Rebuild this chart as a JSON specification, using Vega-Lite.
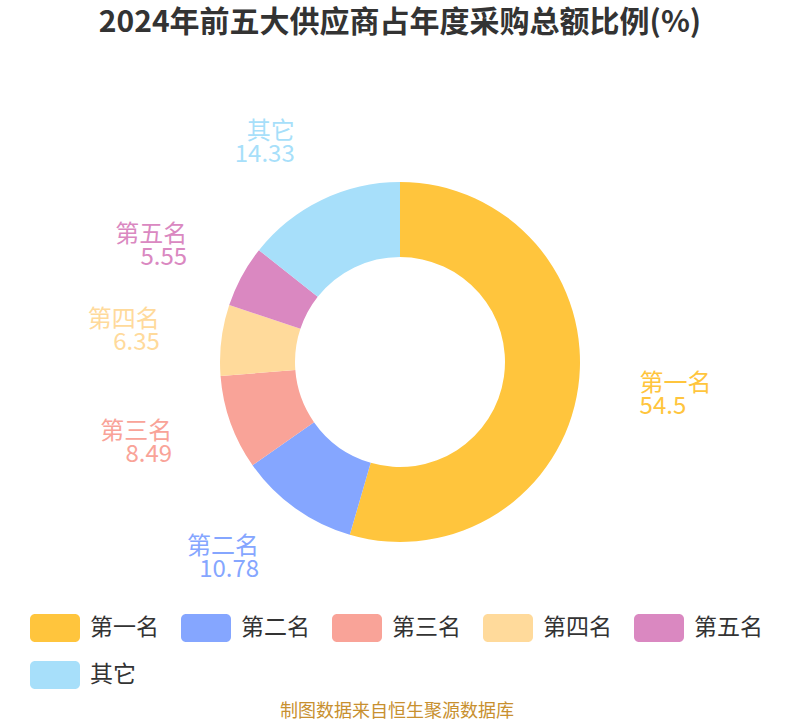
{
  "$schema": "https://vega.github.io/schema/vega-lite/v6.json",
  "width": 800,
  "height": 440,
  "autosize": {"type": "pad"},
  "padding": {"left": 0, "right": 0, "top": 8, "bottom": 0},
  "background": "white",
  "title": {
    "text": "2024年前五大供应商占年度采购总额比例(%)",
    "fontSize": 30,
    "fontWeight": "bold",
    "color": "#333333",
    "font": "Noto Sans CJK SC",
    "anchor": "middle",
    "offset": 82
  },
  "config": {"view": {"stroke": null}, "font": "Noto Sans CJK SC"},
  "data": {
    "values": [
      {"name": "第一名", "value": 54.5, "rank": 1},
      {"name": "第二名", "value": 10.78, "rank": 2},
      {"name": "第三名", "value": 8.49, "rank": 3},
      {"name": "第四名", "value": 6.35, "rank": 4},
      {"name": "第五名", "value": 5.55, "rank": 5},
      {"name": "其它", "value": 14.33, "rank": 6}
    ]
  },
  "encoding": {
    "theta": {"field": "value", "type": "quantitative", "stack": true},
    "order": {"field": "rank", "type": "quantitative"},
    "color": {
      "field": "name",
      "type": "nominal",
      "scale": {
        "domain": ["第一名", "第二名", "第三名", "第四名", "第五名", "其它"],
        "range": ["#FFC53D", "#85A6FF", "#F9A398", "#FFDA9B", "#DA88C1", "#A7DFFA"]
      },
      "legend": {
        "orient": "none",
        "legendX": 30,
        "legendY": 461,
        "direction": "horizontal",
        "columns": 5,
        "symbolType": "M-0.8,-0.56H0.8A0.2,0.2 0 0 1 1,-0.36V0.36A0.2,0.2 0 0 1 0.8,0.56H-0.8A0.2,0.2 0 0 1 -1,0.36V-0.36A0.2,0.2 0 0 1 -0.8,-0.56Z",
        "symbolSize": 2500,
        "symbolStrokeWidth": 0,
        "symbolOpacity": 1,
        "labelFontSize": 23,
        "labelColor": "#333333",
        "labelOffset": 10,
        "columnPadding": 22,
        "rowPadding": 8,
        "padding": 0,
        "title": "制图数据来自恒生聚源数据库",
        "titleOrient": "bottom",
        "titleAnchor": "middle",
        "titleColor": "#C8902F",
        "titleFontSize": 18,
        "titleFontWeight": "normal",
        "titleLimit": 800,
        "titlePadding": 14
      }
    }
  },
  "layer": [
    {"mark": {"type": "arc", "innerRadius": 105, "outerRadius": 180}},
    {
      "mark": {
        "type": "text",
        "radius": 242,
        "fontSize": 24,
        "dy": -12,
        "align": {"expr": "datum.name === '第一名' ? 'left' : 'right'"}
      },
      "encoding": {"text": {"field": "name", "type": "nominal"}}
    },
    {
      "mark": {
        "type": "text",
        "radius": 242,
        "fontSize": 24,
        "dy": 11,
        "align": {"expr": "datum.name === '第一名' ? 'left' : 'right'"}
      },
      "encoding": {"text": {"field": "value", "type": "quantitative"}}
    }
  ]
}
